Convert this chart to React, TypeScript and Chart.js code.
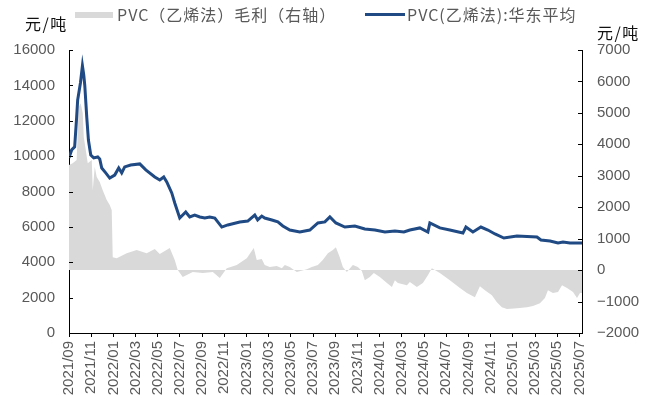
import React, { useEffect, useRef } from "react";
import { Chart, registerables } from "chart.js";

Chart.register(...registerables);

// x values are months since 2021/09
const START_YEAR = 2021;
const START_MONTH = 9;
const X_MAX = 46.23;

const priceMonths = [
  0.0, 0.24, 0.51, 0.69, 0.78, 1.03, 1.21, 1.33, 1.42, 1.6, 1.75, 1.96, 2.23, 2.59, 2.77, 2.95,
  3.31, 3.67, 4.12, 4.48, 4.75, 5.02, 5.56, 6.38, 6.92, 7.73, 8.18, 8.54, 8.81, 9.26, 9.53,
  9.98, 10.52, 10.88, 11.33, 11.79, 12.24, 12.69, 13.14, 13.77, 14.31, 15.39, 16.11, 16.74,
  17.0, 17.37, 17.64, 18.28, 18.82, 19.27, 19.9, 20.8, 21.7, 22.43, 23.06, 23.51, 24.05,
  24.86, 25.76, 26.66, 27.57, 28.47, 29.37, 30.18, 30.72, 31.62, 32.34, 32.52, 33.42, 34.32,
  35.5, 35.77, 36.4, 37.12, 37.75, 38.39, 39.19, 40.37, 42.17, 42.53, 43.35, 44.07, 44.52,
  45.15, 46.23,
];
const priceValues = [
  9900, 10350, 10520, 12210, 13170, 14135, 15110, 14590, 14020, 12210, 10910, 10060, 9900,
  9950, 9840, 9330, 9050, 8760, 8930, 9330, 9050, 9390, 9500, 9560, 9220, 8820, 8650, 8820,
  8540, 7920, 7350, 6500, 6840, 6560, 6670, 6560, 6500, 6560, 6500, 5990, 6110, 6280, 6330,
  6670, 6400, 6610, 6500, 6390, 6280, 6050, 5820, 5710, 5820, 6220, 6280, 6560, 6220, 5990,
  6050, 5880, 5820, 5710, 5770, 5710, 5820, 5940, 5710, 6220, 5940, 5820, 5650, 5990, 5710,
  5990, 5820, 5600, 5370, 5480, 5430, 5260, 5200, 5090, 5150, 5090, 5090,
];

const marginMonths = [
  0.0, 0.33, 0.69, 0.78, 0.87, 1.05, 1.24, 1.33, 1.51, 1.69, 2.05, 2.14, 2.32, 2.5, 2.77, 3.04,
  3.4, 3.67, 3.85, 3.94, 4.3, 5.2, 6.1, 7.0, 7.73, 8.18, 9.08, 9.53, 9.8, 10.25, 11.15, 12.06,
  12.96, 13.59, 14.22, 15.12, 16.02, 16.65, 16.92, 17.37, 17.64, 18.09, 18.72, 19.18, 19.45,
  19.9, 20.53, 21.43, 21.88, 22.43, 22.87, 23.33, 23.78, 24.05, 24.4, 24.68, 25.04, 25.58,
  26.03, 26.39, 26.66, 27.11, 27.47, 28.01, 28.65, 29.1, 29.37, 29.64, 30.45, 30.72, 31.35,
  31.89, 32.34, 32.7, 33.42, 34.32, 35.23, 35.86, 36.58, 37.03, 37.48, 38.11, 38.56, 39.01,
  39.47, 40.37, 41.27, 41.81, 42.44, 42.89, 43.16, 43.61, 44.07, 44.43, 44.88, 45.42, 45.78,
  46.05, 46.23,
];
const marginValues = [
  3340, 3400, 3500, 4360, 5180, 5310, 4990, 4230, 3820, 3400, 3500, 2540, 3280, 2960, 2800,
  2540, 2230, 2070, 1910, 410, 380, 540, 640, 540, 670, 510, 700, 320, 0, -220, -60, -95, -60,
  -250, 60, 160, 380, 700, 320, 350, 160, 95, 130, 60, 160, 95, -60, 30, 95, 160, 320, 540,
  640, 730, 410, 95, -60, 160, 95, -30, -320, -220, -95, -220, -410, -540, -320, -410, -480,
  -380, -540, -410, -160, 60, -95, -320, -570, -730, -860, -510, -640, -800, -1020, -1180,
  -1240, -1210, -1180, -1140, -1050, -890, -640, -730, -700, -480, -570, -700, -890, -730,
  -730,
];

const leftTitle = "元/吨";
const rightTitle = "元/吨";
const marginLabel = "PVC（乙烯法）毛利（右轴）";
const priceLabel = "PVC(乙烯法):华东平均";

const BLUE = "#1f4a84";
const GRAY = "#d9d9d9";
const TEXT = "#595959";
const LATIN = "'Liberation Sans', Arial, sans-serif";
const CJK = "'Noto Sans CJK SC', 'Liberation Sans', sans-serif";

function monthLabel(v: number): string {
  const total = START_MONTH - 1 + Math.round(v);
  const y = START_YEAR + Math.floor(total / 12);
  const m = (total % 12) + 1;
  return `${y}/${m < 10 ? "0" + m : m}`;
}

const decorPlugin = {
  id: "decor",
  afterDraw(chart: any) {
    const ctx = chart.ctx as any;
    const area = chart.chartArea;
    ctx.save();
    // inward y ticks
    ctx.strokeStyle = "#000";
    ctx.lineWidth = 1;
    const yl = chart.scales.y;
    const yr = chart.scales.y1;
    yl.ticks.forEach((t: any) => {
      const py = Math.round(yl.getPixelForValue(t.value)) + 0.5;
      ctx.beginPath();
      ctx.moveTo(area.left, py);
      ctx.lineTo(area.left + 4, py);
      ctx.stroke();
    });
    yr.ticks.forEach((t: any) => {
      const py = Math.round(yr.getPixelForValue(t.value)) + 0.5;
      ctx.beginPath();
      ctx.moveTo(area.right, py);
      ctx.lineTo(area.right - 4, py);
      ctx.stroke();
    });

    // titles
    ctx.fillStyle = "#111";
    ctx.font = `16px ${CJK}`;
    ctx.textBaseline = "middle";
    ctx.textAlign = "left";
    ctx.letterSpacing = "1.5px";
    ctx.fillText(leftTitle, 25, 24);
    ctx.fillText(rightTitle, 597, 33);

    // legend
    ctx.fillStyle = GRAY;
    ctx.fillRect(75, 12, 38, 6);
    ctx.fillStyle = TEXT;
    ctx.font = `16px ${CJK}`;
    ctx.letterSpacing = "1px";
    ctx.fillText(marginLabel, 117, 15);
    ctx.strokeStyle = BLUE;
    ctx.lineWidth = 3;
    ctx.beginPath();
    ctx.moveTo(365, 14.5);
    ctx.lineTo(405, 14.5);
    ctx.stroke();
    ctx.fillText(priceLabel, 407, 15);
    ctx.letterSpacing = "0px";
    ctx.restore();
  },
};

export default function App() {
  const ref = useRef<HTMLCanvasElement | null>(null);

  useEffect(() => {
    document.body.style.margin = "0";
    if (!ref.current) return;
    const chart = new Chart(ref.current, {
      type: "line",
      data: {
        datasets: [
          {
            label: priceLabel,
            data: priceMonths.map((m, i) => ({ x: m, y: priceValues[i] })),
            borderColor: BLUE,
            borderWidth: 3,
            pointRadius: 0,
            fill: false,
            yAxisID: "y",
            order: 0,
            tension: 0,
          },
          {
            label: marginLabel,
            data: marginMonths.map((m, i) => ({ x: m, y: marginValues[i] })),
            borderColor: GRAY,
            borderWidth: 0,
            backgroundColor: GRAY,
            pointRadius: 0,
            fill: "origin",
            yAxisID: "y1",
            order: 1,
            tension: 0,
          },
        ],
      },
      options: {
        animation: false,
        responsive: false,
        maintainAspectRatio: false,
        layout: { padding: { top: 50, left: 0, right: 0, bottom: 0 } },
        plugins: {
          legend: { display: false },
          tooltip: { enabled: false },
        },
        scales: {
          x: {
            type: "linear",
            min: 0,
            max: X_MAX,
            afterBuildTicks(scale: any) {
              const ticks = [];
              for (let v = 0; v <= 46; v += 2) ticks.push({ value: v });
              scale.ticks = ticks;
            },
            afterFit(scale: any) {
              scale.height = 74;
            },
            ticks: {
              autoSkip: false,
              minRotation: 90,
              maxRotation: 90,
              padding: 4,
              color: TEXT,
              font: { family: LATIN, size: 15 },
              callback: (v: any) => monthLabel(Number(v)),
            },
            grid: {
              display: true,
              drawOnChartArea: false,
              drawTicks: true,
              tickLength: 4,
              color: "#000",
            },
            border: { display: true, color: "#000", width: 1 },
          },
          y: {
            position: "left",
            min: 0,
            max: 16000,
            afterFit(scale: any) {
              scale.width = 69;
            },
            ticks: {
              stepSize: 2000,
              padding: 14,
              color: TEXT,
              font: { family: LATIN, size: 15 },
              callback: (v: any) => String(v),
            },
            grid: { display: false, drawTicks: false },
            border: { display: true, color: "#000", width: 1 },
          },
          y1: {
            position: "right",
            min: -2000,
            max: 7000,
            afterFit(scale: any) {
              scale.width = 68;
            },
            ticks: {
              stepSize: 1000,
              padding: 15,
              color: TEXT,
              font: { family: LATIN, size: 15 },
              callback: (v: any) => (Number(v) < 0 ? "−" + Math.abs(Number(v)) : String(v)),
            },
            grid: { display: false, drawTicks: false },
            border: { display: true, color: "#000", width: 1 },
          },
        },
      } as any,
      plugins: [decorPlugin],
    });
    return () => chart.destroy();
  }, []);

  return (
    <div style={{ width: 650, height: 407, background: "#fff" }}>
      <canvas ref={ref} width={650} height={407} style={{ display: "block" }} />
    </div>
  );
}
